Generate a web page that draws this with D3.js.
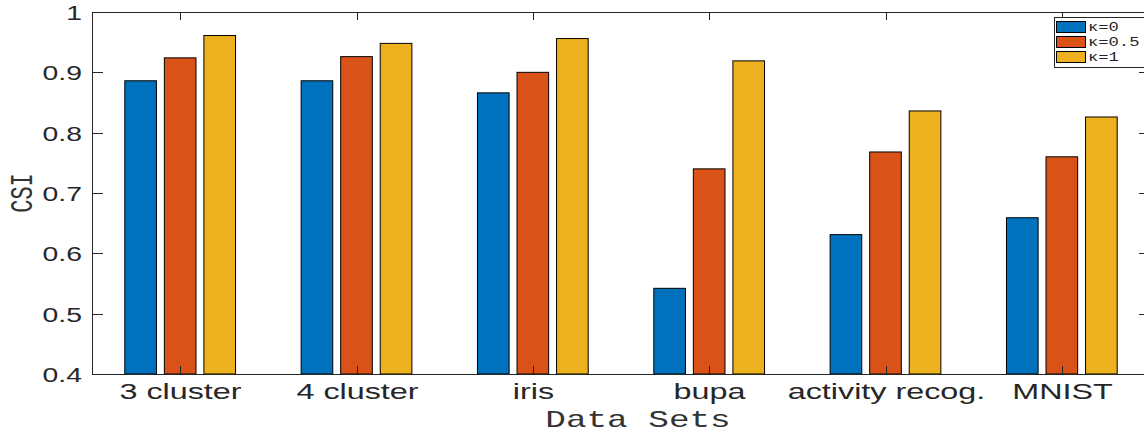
<!DOCTYPE html>
<html>
<head>
<meta charset="utf-8">
<script src="https://cdn.jsdelivr.net/npm/d3@7"></script>
<style>
    body { margin: 0; background: #fff; }
    svg { display: block; overflow: hidden; }
</style>
</head>
<body>
<svg id="chart" width="1144" height="435"></svg>
<script>
const categories = ['3 cluster', '4 cluster', 'iris', 'bupa', 'activity recog.', 'MNIST'];
const seriesNames = ['\u03ba=0', '\u03ba=0.5', '\u03ba=1'];
const kappa0 = [0.886, 0.886, 0.866, 0.542, 0.631, 0.659];
const kappa05 = [0.924, 0.926, 0.900, 0.740, 0.768, 0.760];
const kappa1 = [0.961, 0.948, 0.956, 0.919, 0.836, 0.826];
const yTicks = [0.4, 0.5, 0.6, 0.7, 0.8, 0.9, 1];
const colors = ['#0072BD', '#D95319', '#EDB120'];

const series = [kappa0, kappa05, kappa1];
const svg = d3.select('#chart');

const plot = {left: 92, right: 1150, top: 12, bottom: 374};
const axisColor = '#262626';
const stretch = 1.35; // text in the picture is wider than it is tall

const x = d3.scaleBand().domain(categories).range([plot.left, plot.right]).padding(0);
const subW = x.bandwidth() * 0.628;
const xSub = d3.scaleBand().domain([0, 1, 2]).range([0, subW]).paddingInner(0.2).paddingOuter(0);
const y = d3.scaleLinear().domain([0.4, 1]).range([plot.bottom, plot.top]);

// bars
categories.forEach((cat, i) => {
    const g = svg.append('g')
        .attr('transform', `translate(${x(cat) + (x.bandwidth() - subW) / 2}, 0)`);
    g.selectAll('rect')
        .data(series.map((s, k) => ({k: k, v: s[i]})))
        .enter().append('rect')
        .attr('x', d => xSub(d.k))
        .attr('y', d => y(d.v))
        .attr('width', xSub.bandwidth())
        .attr('height', d => plot.bottom - y(d.v))
        .attr('fill', d => colors[d.k])
        .attr('stroke', '#000')
        .attr('stroke-width', 1);
});

// box
svg.append('rect')
    .attr('x', plot.left + 0.5).attr('y', plot.top + 0.5)
    .attr('width', plot.right - plot.left).attr('height', plot.bottom - plot.top)
    .attr('fill', 'none').attr('stroke', axisColor).attr('stroke-width', 1);

// y axis (ticks inward, both sides)
const yAxis = svg.append('g');
yTicks.forEach(t => {
    const yy = Math.round(y(t)) + 0.5;
    yAxis.append('line').attr('x1', plot.left).attr('x2', plot.left + 11).attr('y1', yy).attr('y2', yy)
        .attr('stroke', axisColor);
    yAxis.append('line').attr('x1', plot.right - 11).attr('x2', plot.right).attr('y1', yy).attr('y2', yy)
        .attr('stroke', axisColor);
    yAxis.append('text')
        .attr('transform', `translate(${plot.left - 10}, ${yy + 7.5}) scale(${stretch}, 1)`)
        .attr('text-anchor', 'end')
        .attr('font-family', 'Liberation Sans, Arial, sans-serif')
        .attr('font-size', '21px')
        .attr('fill', axisColor)
        .text(d3.format('~g')(t));
});

// x axis (ticks inward, bottom and top)
const xAxis = svg.append('g');
categories.forEach(cat => {
    const xx = Math.round(x(cat) + x.bandwidth() / 2) + 0.5;
    xAxis.append('line').attr('x1', xx).attr('x2', xx).attr('y1', plot.bottom).attr('y2', plot.bottom - 8)
        .attr('stroke', axisColor);
    xAxis.append('line').attr('x1', xx).attr('x2', xx).attr('y1', plot.top).attr('y2', plot.top + 8)
        .attr('stroke', axisColor);
    xAxis.append('text')
        .attr('transform', `translate(${xx}, 399) scale(1.47, 1)`)
        .attr('text-anchor', 'middle')
        .attr('font-family', 'Liberation Sans, Arial, sans-serif')
        .attr('font-size', '22px')
        .attr('fill', axisColor)
        .text(cat);
});

// axis titles
svg.append('text')
    .attr('transform', 'translate(638, 427) scale(1.43, 1)')
    .attr('text-anchor', 'middle')
    .attr('font-family', 'Liberation Mono, Courier New, monospace')
    .attr('font-size', '24px')
    .attr('fill', '#333')
    .text('Data Sets');

svg.append('text')
    .attr('transform', 'translate(32, 193) scale(1.43, 1) rotate(-90)')
    .attr('text-anchor', 'middle')
    .attr('font-family', 'Liberation Mono, Courier New, monospace')
    .attr('font-size', '22px')
    .attr('fill', '#333')
    .text('CSI');

// legend
const legend = svg.append('g').attr('transform', 'translate(1054, 17)');
legend.append('rect')
    .attr('x', 0.5).attr('y', 0.5).attr('width', 90).attr('height', 50)
    .attr('fill', '#fff').attr('stroke', axisColor);
seriesNames.forEach((name, k) => {
    legend.append('rect')
        .attr('x', 2.5).attr('y', 4.5 + k * 15).attr('width', 29).attr('height', 11)
        .attr('fill', colors[k]).attr('stroke', '#000');
    legend.append('text')
        .attr('transform', `translate(34, ${14 + k * 15}) scale(1.43, 1)`)
        .attr('font-family', 'Liberation Mono, Courier New, monospace')
        .attr('font-size', '12px')
        .attr('fill', axisColor)
        .text(name);
});
</script>
</body>
</html>
